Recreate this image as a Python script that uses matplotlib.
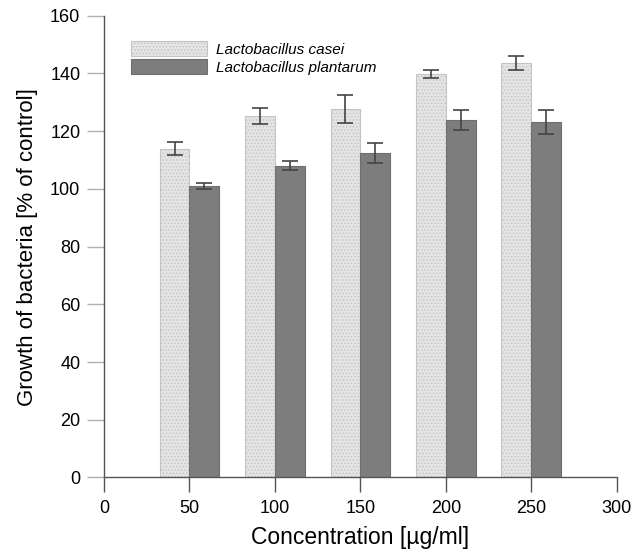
import numpy as np
import matplotlib
matplotlib.use("Agg")
import matplotlib.pyplot as plt

plt.rcParams["font.family"] = ["Liberation Sans", "DejaVu Sans"]
plt.rcParams["hatch.linewidth"] = 0.6

# data
concentrations = [50, 100, 150, 200, 250]
casei_mean = [113.9, 125.3, 127.7, 139.7, 143.7]
casei_err = [2.2, 2.7, 5.0, 1.4, 2.5]
plantarum_mean = [101.0, 108.0, 112.5, 123.8, 123.3]
plantarum_err = [0.9, 1.6, 3.4, 3.5, 4.2]
series_names = ["Lactobacillus casei", "Lactobacillus plantarum"]

bar_w = 17.5
x = np.array(concentrations, dtype=float)

fig = plt.figure(figsize=(6.34, 5.51), dpi=100)
ax = fig.add_axes([0.164, 0.1334, 0.809, 0.838])

err_kw = dict(ecolor="#444444", elinewidth=1.2, capsize=6, capthick=1.2)

# casei bars end at the tick, plantarum bars start at it
ax.bar(x, casei_mean, width=-bar_w, align="edge", color="#e4e4e4",
       edgecolor="#c4c4c4", hatch=".....", linewidth=0.8,
       label=series_names[0])
ax.errorbar(x - bar_w / 2, casei_mean, yerr=casei_err, fmt="none", **err_kw)

ax.bar(x, plantarum_mean, width=bar_w, align="edge", color="#7d7d7d",
       edgecolor="#6e6e6e", linewidth=0.8, label=series_names[1])
ax.errorbar(x + bar_w / 2, plantarum_mean, yerr=plantarum_err, fmt="none", **err_kw)

ax.set_xlim(0, 300)
ax.set_ylim(0, 160)
ax.set_xticks(np.arange(0, 301, 50))
ax.set_yticks(np.arange(0, 161, 20))

for s in ["top", "right"]:
    ax.spines[s].set_visible(False)
for s in ["left", "bottom"]:
    ax.spines[s].set_color("#555555")
    ax.spines[s].set_linewidth(1.0)

ax.tick_params(axis="x", direction="out", length=11, width=1.0,
               color="#555555", labelsize=13, pad=5)
ax.tick_params(axis="y", direction="out", length=12, width=1.0,
               color="#b0b0b0", labelsize=13, pad=5)

ax.set_xlabel("Concentration [µg/ml]", fontsize=16.5, labelpad=7)
ax.set_ylabel("Growth of bacteria [% of control]", fontsize=16, labelpad=9)

ax.legend(loc="upper left", bbox_to_anchor=(0.025, 0.975),
          frameon=False, handlelength=5.0, handleheight=1.15,
          labelspacing=0.15, handletextpad=0.6,
          prop={"style": "italic", "size": 11})

fig.savefig("out.png", dpi=100)
